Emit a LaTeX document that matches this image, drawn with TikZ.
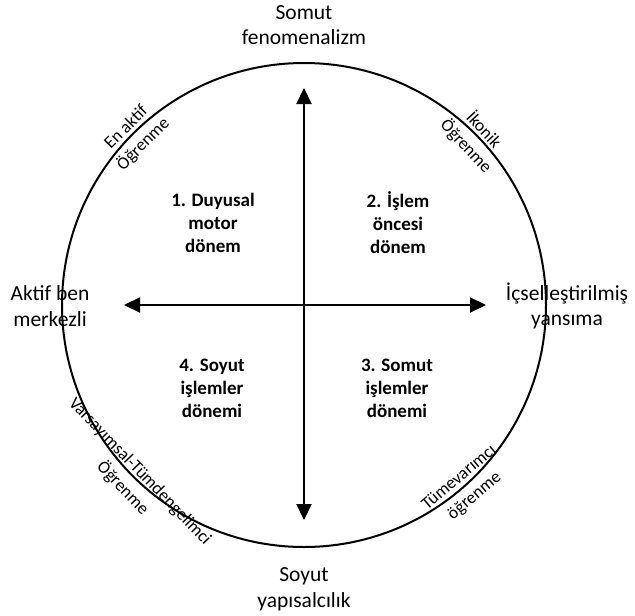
\documentclass[tikz,border=0pt]{standalone}
\usepackage{fontspec}
\setmainfont{Carlito}
\usetikzlibrary{arrows.meta}
\begin{document}
\begin{tikzpicture}[x=1pt,y=-1pt,
  outer/.style={font=\fontsize{21.5}{25.5}\selectfont, align=center, inner sep=0pt},
  stage/.style={font=\bfseries\fontsize{19}{23}\selectfont, align=center, inner sep=0pt},
  mode/.style={font=\fontsize{17.5}{24}\selectfont, align=center, inner sep=0pt},
  axis/.style={line width=2.2pt, {Triangle[length=16pt,width=15pt]}-{Triangle[length=16pt,width=15pt]}}]
\useasboundingbox (0,0) rectangle (635,616);

% outer circle
\coordinate (c) at (304,305);
\draw[line width=2pt] (c) circle[radius=242];

% the two axes
\coordinate (top) at (304,88);
\coordinate (bottom) at (304,520);
\coordinate (left) at (124,305);
\coordinate (right) at (486,305);
\draw[axis] (bottom) -- (top);
\draw[axis] (left) -- (right);

% pole labels
\node[outer] (ntop) at (304,25) {Somut\\fenomenalizm};
\node[outer] (nbottom) at (304,589) {Soyut\\yapısalcılık};
\node[outer] (nleft) at (50,306) {Aktif ben\\merkezli};
\node[outer] (nright) at (567,306) {İçselleştirilmiş\\yansıma};

% stages in the quadrants
\node[stage] (s1) at (213,223) {1. Duyusal\\motor\\dönem};
\node[stage] (s2) at (398,223) {2. İşlem\\öncesi\\dönem};
\node[stage] (s4) at (212,388) {4. Soyut\\işlemler\\dönemi};
\node[stage] (s3) at (397,388) {3. Somut\\işlemler\\dönemi};

% learning modes along the circle
\node[mode, rotate=45] (m1) at (135,136) {En aktif\\Öğrenme};
\node[mode, rotate=-47] (m2) at (475,138) {İkonik\\Öğrenme};
\node[mode, rotate=-46] (m4) at (131,480) {Varsayımsal-Tümdengelimci\\Öğrenme};
\node[mode, rotate=40] (m3) at (467,487) {Tümevarımcı\\öğrenme};
\end{tikzpicture}
\end{document}
